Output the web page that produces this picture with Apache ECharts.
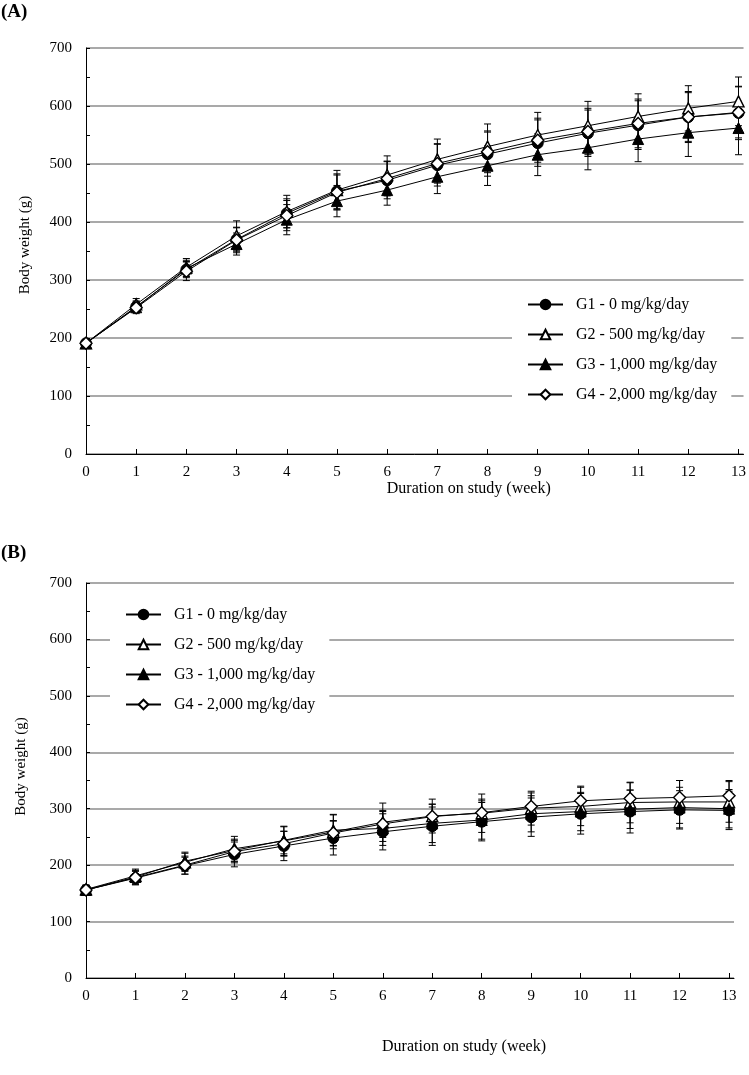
<!DOCTYPE html>
<html>
<head>
<meta charset="utf-8">
<script src="https://cdn.jsdelivr.net/npm/echarts@6/dist/echarts.min.js"></script>
<style>html,body{margin:0;padding:0;background:#fff}#c{width:749px;height:1075px}</style>
</head>
<body>
<div id="c"></div>
<script>
const weeks = [0,1,2,3,4,5,6,7,8,9,10,11,12,13];
const groupNames = ['G1 - 0 mg/kg/day','G2 - 500 mg/kg/day','G3 - 1,000 mg/kg/day','G4 - 2,000 mg/kg/day'];
const yTicks = [0,100,200,300,400,500,600,700];

// Panel A (means, SD)
const A_G1 = [191,254,318,370,415,453,472,498,517,536,553,567,581,588];
const A_G2 = [191,258,322,376,418,455,481,508,530,550,566,582,596,608];
const A_G3 = [191,253,320,362,404,436,455,478,497,516,528,543,554,562];
const A_G4 = [191,252,315,369,411,451,475,501,521,541,556,570,581,589];
const A_G1_sd = [4,10,14,20,25,30,32,36,38,40,40,42,44,46];
const A_G2_sd = [4,10,15,26,28,34,33,35,39,39,42,39,39,42];
const A_G3_sd = [4,9,14,19,26,27,26,29,34,36,38,39,41,46];
const A_G4_sd = [4,10,16,22,26,30,30,34,36,38,40,42,42,44];

// Panel B (means, SD)
const B_G1 = [156,177,199,219,234,248,259,269,277,285,291,295,298,297];
const B_G2 = [157,181,205,229,243,259,276,287,292,301,304,311,312,312];
const B_G3 = [156,179,207,226,244,262,265,274,280,291,295,299,302,300];
const B_G4 = [156,178,200,224,238,257,273,286,293,304,314,318,320,323];
const B_G1_sd = [8,12,15,22,26,30,32,34,34,34,36,38,34,34];
const B_G2_sd = [8,12,16,22,26,30,34,30,34,30,34,36,38,36];
const B_G3_sd = [8,12,16,20,24,28,30,34,34,32,34,34,36,34];
const B_G4_sd = [8,12,16,20,22,22,24,22,24,24,26,28,30,27];

const FONT = 'Liberation Serif';
const symbols = [
  {symbol:'circle', itemStyle:{color:'#000', borderColor:'#000', borderWidth:1}, size:11},
  {symbol:'triangle', itemStyle:{color:'#fff', borderColor:'#000', borderWidth:1.4}, size:11},
  {symbol:'triangle', itemStyle:{color:'#000', borderColor:'#000', borderWidth:1}, size:11},
  {symbol:'diamond', itemStyle:{color:'#fff', borderColor:'#000', borderWidth:1.4}, size:12}
];

function errRender(params, api) {
  const x = api.value(0), m = api.value(1), s = api.value(2);
  const t = api.coord([x, m + s]);
  const b = api.coord([x, m - s]);
  const w = 3.5;
  const st = {stroke:'#000', lineWidth:1};
  return {type:'group', children:[
    {type:'line', shape:{x1:t[0], y1:t[1], x2:b[0], y2:b[1]}, style:st},
    {type:'line', shape:{x1:t[0]-w, y1:t[1], x2:t[0]+w, y2:t[1]}, style:st},
    {type:'line', shape:{x1:b[0]-w, y1:b[1], x2:b[0]+w, y2:b[1]}, style:st}
  ]};
}

function panelSeries(idx, means, sds) {
  const out = [];
  means.forEach((vals, g) => {
    out.push({
      type:'custom', xAxisIndex:idx, yAxisIndex:idx, z:1, silent:true,
      renderItem: errRender, encode:{x:0, y:1},
      data: weeks.map((w,i) => [w, vals[i], sds[g][i]])
    });
  });
  means.forEach((vals, g) => {
    out.push({
      type:'line', name:groupNames[g], xAxisIndex:idx, yAxisIndex:idx, z:3,
      symbol:symbols[g].symbol, symbolSize:symbols[g].size,
      itemStyle:symbols[g].itemStyle,
      lineStyle:{color:'#000', width:1},
      animation:false,
      data: weeks.map((w,i) => [w, vals[i]])
    });
  });
  return out;
}

function xAxis(idx, gap) {
  return {
    type:'value', gridIndex:idx, min:0, max:13.1, interval:1,
    axisLine:{show:true, lineStyle:{color:'#000', width:1}},
    axisTick:{show:true, inside:true, length:5, customValues:weeks, lineStyle:{color:'#000'}},
    axisLabel:{customValues:weeks, color:'#000', fontFamily:FONT, fontSize:15, margin:11},
    splitLine:{show:false},
    name:'Duration on study (week)', nameLocation:'middle', nameGap:gap,
    nameTextStyle:{color:'#000', fontFamily:FONT, fontSize:16, padding:[0,0,0,108]}
  };
}
function yAxis(idx, gap, shift) {
  return {
    type:'value', gridIndex:idx, min:0, max:700, interval:100,
    axisLine:{show:true, lineStyle:{color:'#000', width:1}},
    axisTick:{show:true, inside:true, length:4, lineStyle:{color:'#000'}},
    minorTick:{show:true, splitNumber:2, length:4, lineStyle:{color:'#000'}},
    axisLabel:{color:'#000', fontFamily:FONT, fontSize:15, margin:14},
    splitLine:{show:true, lineStyle:{color:'#8c8c8c', width:1.5}},
    name:'Body weight (g)', nameLocation:'middle', nameGap:gap,
    nameTextStyle:{color:'#000', fontFamily:FONT, fontSize:15, padding:[0,0,0,shift]}
  };
}
function legend(left, top) {
  return {
    data:groupNames, orient:'vertical', left:left, top:top,
    padding:[8,14,8,15], itemGap:13, itemWidth:35, itemHeight:12,
    backgroundColor:'#fff', selectedMode:false,
    formatter: n => '  ' + n,
    textStyle:{color:'#000', fontFamily:FONT, fontSize:16, lineHeight:17}
  };
}

const chart = echarts.init(document.getElementById('c'), null, {renderer:'canvas'});
chart.setOption({
  animation:false,
  backgroundColor:'#fff',
  grid:[
    {left:86, top:48, width:661, height:406},
    {left:86, top:583, width:648, height:395}
  ],
  xAxis:[xAxis(0, 26), xAxis(1, 61)],
  yAxis:[yAxis(0, 53, 12), yAxis(1, 57, 28)],
  legend:[legend(512, 288), legend(110, 598)],
  graphic:[
    {type:'text', left:1, top:3, style:{text:'(A)', fontFamily:FONT, fontWeight:'bold', fontSize:19, fill:'#000'}},
    {type:'text', left:1, top:544, style:{text:'(B)', fontFamily:FONT, fontWeight:'bold', fontSize:19, fill:'#000'}}
  ],
  series:[].concat(
    panelSeries(0, [A_G1,A_G2,A_G3,A_G4], [A_G1_sd,A_G2_sd,A_G3_sd,A_G4_sd]),
    panelSeries(1, [B_G1,B_G2,B_G3,B_G4], [B_G1_sd,B_G2_sd,B_G3_sd,B_G4_sd])
  )
});
</script>
</body>
</html>
